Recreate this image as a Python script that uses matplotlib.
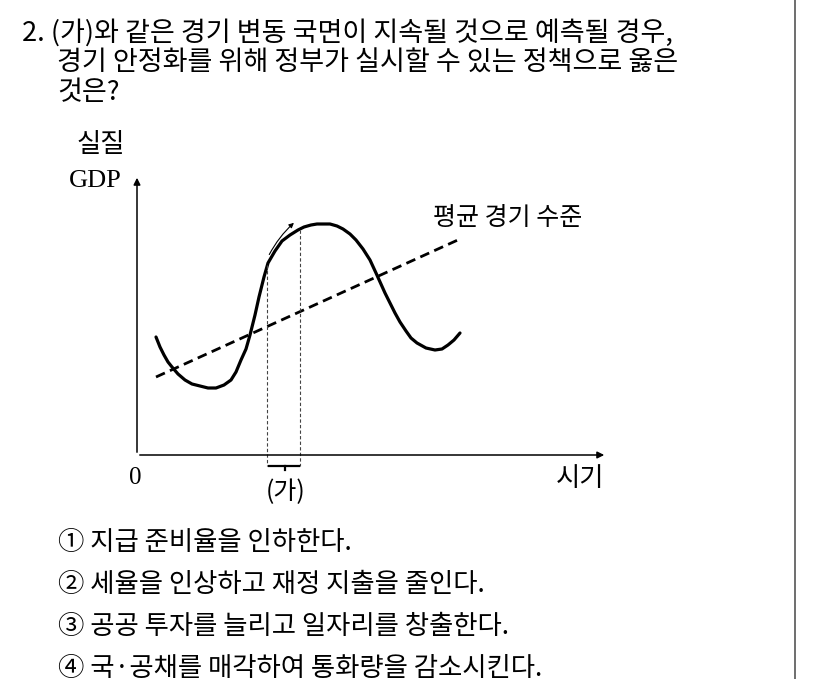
import matplotlib
matplotlib.use("Agg")
import matplotlib.pyplot as plt

plt.rcParams['font.family'] = ['Noto Sans CJK KR', 'DejaVu Sans']

question = ["2. (가)와 같은 경기 변동 국면이 지속될 것으로 예측될 경우,",
            "경기 안정화를 위해 정부가 실시할 수 있는 정책으로 옳은",
            "것은?"]
options = ["① 지급 준비율을 인하한다.",
           "② 세율을 인상하고 재정 지출을 줄인다.",
           "③ 공공 투자를 늘리고 일자리를 창출한다.",
           "④ 국·공채를 매각하여 통화량을 감소시킨다."]
curve_x = [156, 160, 164, 168, 172, 178, 185, 192, 200, 208, 216, 224, 231, 236, 241, 246, 250, 255, 259, 264, 268, 275, 282, 290, 298, 304, 311, 317, 324, 330, 337, 343, 350, 356, 363, 370, 376, 385, 395, 400, 406, 411, 417, 426, 435, 442, 448, 454, 460]
curve_y = [337, 347, 355, 362, 367, 374, 380, 384, 386, 388, 388, 385, 380, 372, 360, 349, 335, 315, 297, 277, 263, 251, 241, 235, 230, 227, 225, 224, 224, 224, 226, 229, 234, 240, 249, 260, 273, 293, 313, 322, 331, 338, 343, 348, 350, 349, 345, 340, 333]
trend_x = [156, 460]
trend_y = [377, 239]

W, H = 826, 679
fig = plt.figure(figsize=(W/100, H/100), dpi=100)
ax = fig.add_axes([0, 0, 1, 1])
ax.set_xlim(0, W); ax.set_ylim(H, 0); ax.axis('off')

ax.plot([795, 795], [0, H], color='#555', lw=1.2)

ax.text(22, 33, question[0], fontsize=19.5, va='center')
ax.text(57, 63, question[1], fontsize=19.5, va='center')
ax.text(57, 93, question[2], fontsize=19.5, va='center')
for i, t in enumerate(options):
    ax.text(58, 543 + i*42, t, fontsize=19, va='center')

ax.annotate('', xy=(137, 175), xytext=(137, 455),
            arrowprops=dict(arrowstyle='-|>', color='k', lw=1.1, mutation_scale=10))
ax.annotate('', xy=(607, 455), xytext=(137, 455),
            arrowprops=dict(arrowstyle='-|>', color='k', lw=1.1, mutation_scale=10))

ax.plot(curve_x, curve_y, color='k', lw=2.3, solid_capstyle='round', solid_joinstyle='round')
ax.plot(trend_x, trend_y, color='k', lw=2.0, ls=(0, (3.5, 2)))

for xv, yv in [(267, 265), (300, 230)]:
    ax.plot([xv, xv], [yv, 466], color='#444', lw=0.8, ls=(0, (3, 2)))
ax.plot([269, 299], [466, 466], color='k', lw=1.6)
ax.plot([285, 285], [466, 470], color='k', lw=1.6)
ax.annotate('', xy=(296, 221), xytext=(268, 257),
            arrowprops=dict(arrowstyle='-|>', color='k', lw=0.8, mutation_scale=7,
                            connectionstyle='arc3,rad=-0.1'))

ax.text(101, 145, '실질', fontsize=19, ha='center', va='center')
ax.text(95, 181, 'GDP', fontsize=19, ha='center', va='center', family='Liberation Serif')
ax.text(508, 218, '평균 경기 수준', fontsize=18, ha='center', va='center')
ax.text(135, 478, '0', fontsize=18, ha='center', va='center', family='Liberation Serif')
ax.text(286, 492, '(가)', fontsize=18, ha='center', va='center')
ax.text(580, 479, '시기', fontsize=19, ha='center', va='center')

fig.savefig('out.png', dpi=100)
